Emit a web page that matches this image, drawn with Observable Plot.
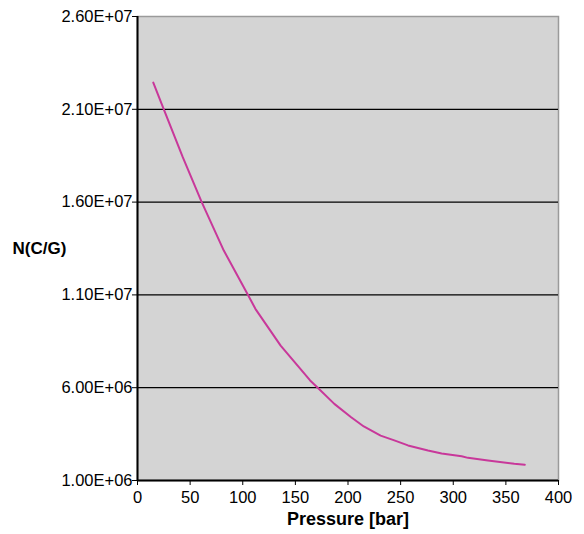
<!DOCTYPE html>
<html>
<head>
<meta charset="utf-8">
<script src="https://cdn.jsdelivr.net/npm/d3@7"></script>
<script src="https://cdn.jsdelivr.net/npm/@observablehq/plot@0.6"></script>
<style>
  html, body { margin: 0; padding: 0; background: #ffffff; }
  #chart { width: 584px; height: 534px; }
</style>
</head>
<body>
<div id="chart"></div>
<script>
// Pressure (bar) against N(C/G)
const pressure = [15, 25, 43, 61, 82, 105, 112, 136, 164, 172, 187, 203, 215, 231, 244, 257, 276, 289, 308, 314, 333, 358, 368];
const nValues = [2.244e7, 2.10e7, 1.842e7, 1.60e7, 1.339e7, 1.10e7, 1.025e7, 8.27e6, 6.39e6, 5.96e6, 5.13e6, 4.41e6, 3.91e6, 3.42e6, 3.16e6, 2.89e6, 2.62e6, 2.46e6, 2.31e6, 2.22e6, 2.08e6, 1.90e6, 1.85e6];

const xTicks = [0, 50, 100, 150, 200, 250, 300, 350, 400];
const yTicks = [1e6, 6e6, 1.1e7, 1.6e7, 2.1e7, 2.6e7];
const yTickLabels = ["1.00E+06", "6.00E+06", "1.10E+07", "1.60E+07", "2.10E+07", "2.60E+07"];

const xTitle = "Pressure [bar]";
const yTitle = "N(C/G)";

const rows = pressure.map((p, i) => ({p, n: nValues[i]}));

const chart = Plot.plot({
  width: 584,
  height: 534,
  marginLeft: 137,
  marginRight: 26,
  marginTop: 16,
  marginBottom: 54,
  style: {fontFamily: "'Liberation Sans', Arial, sans-serif", color: "#000", background: "#fff"},
  x: {domain: [0, 400], axis: null},
  y: {domain: [1e6, 2.6e7], axis: null},
  marks: [
    Plot.frame({fill: "#d4d4d4", stroke: "#9a9a9a", strokeWidth: 1.5}),
    Plot.ruleY(yTicks.slice(1, -1), {stroke: "#000", strokeWidth: 1.2}),
    Plot.ruleX([0], {stroke: "#000", strokeWidth: 2}),
    Plot.ruleY([1e6], {stroke: "#000", strokeWidth: 2}),
    Plot.axisY({
      ticks: yTicks,
      tickFormat: d => yTickLabels[yTicks.indexOf(d)],
      tickSize: 5,
      tickPadding: 0,
      fontSize: 16.5,
      label: null
    }),
    Plot.axisX({
      ticks: xTicks,
      tickFormat: d => String(d),
      tickSize: 5,
      tickPadding: 6,
      fontSize: 16.5,
      label: null
    }),
    Plot.line(rows, {x: "p", y: "n", stroke: "#c8389a", strokeWidth: 2}),
    Plot.text([xTitle], {frameAnchor: "bottom", dy: 44, fontWeight: "bold", fontSize: 18, fill: "#000", textAnchor: "middle"}),
    Plot.text([yTitle], {frameAnchor: "left", dx: -98, fontWeight: "bold", fontSize: 17, fill: "#000", textAnchor: "middle"})
  ]
});

document.getElementById("chart").appendChild(chart);
</script>
</body>
</html>
